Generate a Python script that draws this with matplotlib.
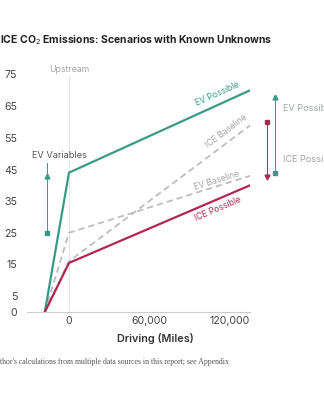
import numpy as np
import matplotlib
matplotlib.use("Agg")
import matplotlib.pyplot as plt

plt.rcParams['font.family'] = ['Inter', 'DejaVu Sans']

TEAL = '#3a9a8a'
CRIMSON = '#b3264f'
DASH = '#bdbdbd'
LABEL_GRAY = '#a5a5a5'

# scenario lines (miles driven vs tonnes CO2)
miles = [-18000, 0, 135000]
ev_possible = [0, 44, 70]
ev_baseline = [0, 25, 43]
ice_possible = [0, 15.5, 40]
ice_baseline_miles = [-18000, 0, 140000]
ice_baseline = [0, 16, 60.5]

yticks = [0, 5, 15, 25, 35, 45, 55, 65, 75]
xticks = [0, 60000, 120000]
xtick_labels = ['0', '60,000', '120,000']

# range arrows (x, bottom, top)
ev_var_arrow = (-16400, 25, 43)
ev_pos_arrow = (154000, 44, 68)
ice_pos_arrow = (148000, 60, 42.5)


def main():
    fig = plt.figure(figsize=(3.24, 4.0), dpi=100)
    ax = fig.add_axes([27 / 324, 0.22, 223 / 324, 0.6175])
    ax.set_xlim(-31300, 135000)
    ax.set_ylim(0, 78)

    # upstream marker line
    ax.plot([0, 0], [0, 74.5], color='#e6e6e6', lw=0.8, zorder=1)
    ax.text(0, 76.6, 'Upstream', ha='center', va='center', fontsize=6.3,
            color=LABEL_GRAY)

    ax.plot(ice_baseline_miles, ice_baseline, color=DASH, lw=1.3,
            dashes=(3.5, 2.2), zorder=2)
    ax.plot(miles, ev_baseline, color=DASH, lw=1.3, dashes=(3.5, 2.2), zorder=2)
    ax.plot(miles, ev_possible, color=TEAL, lw=1.6, zorder=3)
    ax.plot(miles, ice_possible, color=CRIMSON, lw=1.6, zorder=3)

    fig.canvas.draw()

    def angle(xs, ys):
        p = ax.transData.transform(np.column_stack([xs[-2:], ys[-2:]]))
        return np.degrees(np.arctan2(p[1, 1] - p[0, 1], p[1, 0] - p[0, 0]))

    ax.text(111000, 68.8, 'EV Possible', color=TEAL, fontsize=6.2,
            rotation=angle(miles, ev_possible), ha='center', va='center',
            rotation_mode='anchor')
    ax.text(117000, 57.0, 'ICE Baseline', color=LABEL_GRAY, fontsize=6.2,
            rotation=angle(ice_baseline_miles, ice_baseline), ha='center',
            va='center', rotation_mode='anchor')
    ax.text(110000, 41.6, 'EV Baseline', color=LABEL_GRAY, fontsize=6.2,
            rotation=angle(miles, ev_baseline), ha='center', va='center',
            rotation_mode='anchor')
    ax.text(111000, 32.6, 'ICE Possible', color=CRIMSON, fontsize=6.2,
            rotation=angle(miles, ice_possible), ha='center', va='center',
            rotation_mode='anchor')

    # EV variables arrow
    x, lo, hi = ev_var_arrow
    ax.plot([x, x], [lo, 47], color=TEAL, lw=0.7, clip_on=False)
    ax.plot(x, lo, marker='s', ms=2.8, color=TEAL, clip_on=False)
    ax.plot(x, hi, marker='^', ms=3.5, color=TEAL, clip_on=False)
    ax.text(-7000, 49.5, 'EV Variables', ha='center', va='center',
            fontsize=6.6, color='#555555')

    # right side range arrows
    x, lo, hi = ev_pos_arrow
    ax.plot([x, x], [lo, hi], color=TEAL, lw=0.7, clip_on=False)
    ax.plot(x, lo, marker='s', ms=2.8, color=TEAL, clip_on=False)
    ax.plot(x, hi, marker='^', ms=3.5, color=TEAL, clip_on=False)
    x, top, bot = ice_pos_arrow
    ax.plot([x, x], [top, bot], color=CRIMSON, lw=0.7, clip_on=False)
    ax.plot(x, top, marker='s', ms=2.8, color=CRIMSON, clip_on=False)
    ax.plot(x, bot, marker='v', ms=3.5, color=CRIMSON, clip_on=False)
    ax.text(159500, 64.4, 'EV Possible', ha='left', va='center', fontsize=6.6,
            color='#9aa9a6', clip_on=False)
    ax.text(159500, 48, 'ICE Possible', ha='left', va='center', fontsize=6.6,
            color='#a89ca0', clip_on=False)

    ax.set_yticks(yticks)
    ax.set_xticks(xticks)
    ax.set_xticklabels(xtick_labels)
    ax.tick_params(axis='both', length=0, labelsize=7.6, labelcolor='#444444')
    ax.tick_params(axis='y', pad=7)
    ax.tick_params(axis='x', pad=3)
    for s in ['top', 'right', 'left']:
        ax.spines[s].set_visible(False)
    ax.spines['bottom'].set_color('#cccccc')
    ax.spines['bottom'].set_linewidth(0.8)

    fig.text(0.0, 1 - 40 / 400, 'ICE CO$_2$ Emissions: Scenarios with Known Unknowns',
             ha='left', va='center', fontsize=7.5, fontweight='bold',
             color='#222222')
    fig.text(155 / 324, 1 - 339 / 400, 'Driving (Miles)', ha='center',
             va='center', fontsize=7.8, fontweight='semibold', color='#333333')
    fig.text(0.0, 1 - 362 / 400,
             "thor's calculations from multiple data sources in this report; see Appendix",
             ha='left', va='center', fontsize=5.6, family='Liberation Serif',
             color='#555555')

    fig.savefig('out.png', dpi=100, facecolor='white')
    plt.close()


if __name__ == "__main__":
    main()
